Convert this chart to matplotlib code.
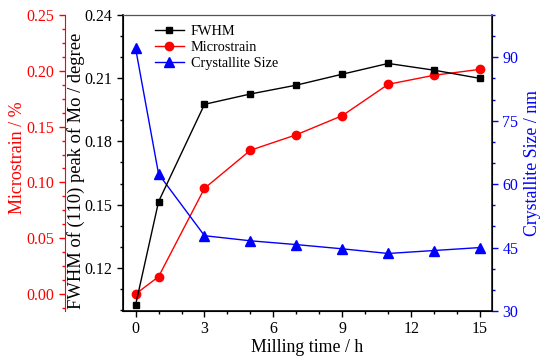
import matplotlib
matplotlib.use("Agg")
from matplotlib import pyplot as plt
from matplotlib.ticker import MultipleLocator, FormatStrFormatter

plt.rcParams['font.family'] = ['Liberation Serif', 'DejaVu Serif']

# data
time_h = [0, 1, 3, 5, 7, 9, 11, 13, 15]
fwhm = [0.1024, 0.1514, 0.1976, 0.2025, 0.2067, 0.2119, 0.2170, 0.2138, 0.2099]
microstrain = [0.000, 0.0155, 0.0947, 0.1288, 0.1427, 0.1598, 0.1879, 0.1960, 0.2013]
cryst_size = [92.1, 62.4, 47.8, 46.6, 45.7, 44.7, 43.6, 44.3, 45.0]

fig = plt.figure(figsize=(5.5, 3.63), dpi=100)
ax = fig.add_axes([0.2236, 0.1433, 0.6709, 0.8154])
ax_ms = ax.twinx()
ax_cs = ax.twinx()

l1, = ax.plot(time_h, fwhm, color='black', marker='s', ms=5, lw=1, label='FWHM')
l2, = ax_ms.plot(time_h, microstrain, color='red', marker='o', ms=6, lw=1, label='Microstrain')
l3, = ax_cs.plot(time_h, cryst_size, color='blue', marker='^', ms=6.5, lw=1, label='Crystallite Size')

ax.set_xlim(-0.55, 15.52)
ax.set_ylim(0.0995, 0.24)
ax_ms.set_ylim(-0.0152, 0.25)
ax_cs.set_ylim(30, 100)

ax.xaxis.set_major_locator(MultipleLocator(3))
ax.xaxis.set_minor_locator(MultipleLocator(1))
ax.yaxis.set_major_locator(MultipleLocator(0.03))
ax.yaxis.set_minor_locator(MultipleLocator(0.01))
ax.yaxis.set_major_formatter(FormatStrFormatter('%.2f'))

# microstrain axis moved to the left
ax_ms.yaxis.set_label_position('left')
ax_ms.yaxis.set_ticks_position('left')
ax_ms.spines['left'].set_position(('outward', 42))
ax_ms.spines['left'].set_visible(True)
ax_ms.spines['left'].set_color('red')
ax_ms.spines['right'].set_visible(False)
ax_ms.spines['top'].set_visible(False)
ax_ms.spines['bottom'].set_visible(False)
ax_ms.yaxis.set_major_locator(MultipleLocator(0.05))
ax_ms.yaxis.set_minor_locator(MultipleLocator(0.0125))
ax_ms.yaxis.set_major_formatter(FormatStrFormatter('%.2f'))

ax_cs.spines['right'].set_color('blue')
ax_cs.spines['right'].set_linewidth(1.2)
ax_cs.set_yticks([30, 45, 60, 75, 90])
ax_cs.yaxis.set_minor_locator(MultipleLocator(5))

for a in (ax, ax_ms, ax_cs):
    a.tick_params(which='major', direction='out', length=4, width=1, labelsize=11.5)
    a.tick_params(which='minor', direction='out', length=2.5, width=1)
ax_ms.tick_params(axis='y', which='both', colors='red')
ax_cs.tick_params(axis='y', which='both', colors='blue')
ax.spines['top'].set_color('#555555')
ax.spines['left'].set_linewidth(1.2)
ax.spines['bottom'].set_linewidth(1.2)

ax.set_xlabel('Milling time / h', fontsize=12.8, labelpad=1)
ax.set_ylabel('FWHM of (110) peak of Mo / degree', fontsize=13.3)
ax.yaxis.set_label_coords(-0.103, 0.473)
ax_ms.set_ylabel('Microstrain / %', fontsize=13, color='red')
ax_ms.yaxis.set_label_coords(-0.263, 0.517)
ax_cs.set_ylabel('Crystallite Size / nm', fontsize=12.8, color='blue', labelpad=4)

ax.set_zorder(3)
ax.patch.set_visible(False)
ax.legend(handles=[l1, l2, l3], loc='upper left', frameon=False, fontsize=10.3,
          handlelength=2.0, handletextpad=0.5, labelspacing=0.2, borderaxespad=0.3,
          bbox_to_anchor=(0.06, 1.0))

fig.savefig('out.png', dpi=100)
